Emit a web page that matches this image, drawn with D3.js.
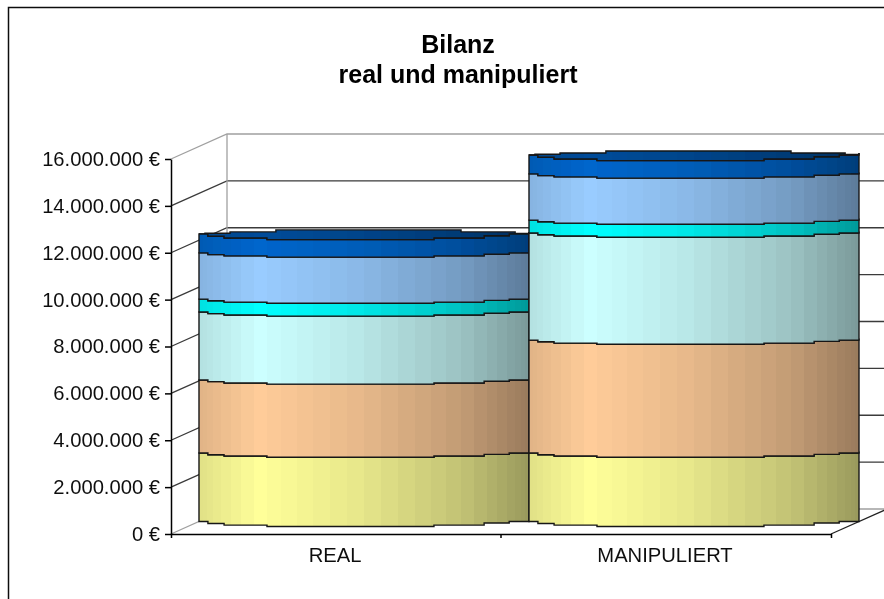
<!DOCTYPE html>
<html>
<head>
<meta charset="utf-8">
<script src="https://cdnjs.cloudflare.com/ajax/libs/d3/7.8.5/d3.min.js"></script>
<style>
	html, body { margin: 0; padding: 0; background: #fff; }
	svg { display: block; font-family: "Liberation Sans", Arial, sans-serif; }
</style>
</head>
<body>
<svg id="chart" width="884" height="599"></svg>
<script>
var categories = ['REAL', 'MANIPULIERT'];
var tickValues = [0, 2000000, 4000000, 6000000, 8000000, 10000000, 12000000, 14000000, 16000000];
var titleLines = ['Bilanz', 'real und manipuliert'];

// stacked layers, bottom to top, one value per category
var layerA = [2920000, 2920000];
var layerB = [3120000, 4820000];
var layerC = [2900000, 4570000];
var layerD = [550000, 550000];
var layerE = [1970000, 1970000];
var layerF = [810000, 810000];
var layers = [layerA, layerB, layerC, layerD, layerE, layerF];
var layerColors = ['#ffff99', '#ffcc99', '#ccffff', '#00ffff', '#99ccff', '#0066cc'];
var topColor = '#004c99';

var root = d3.select('#chart');
var left = 171, right = 831, top_ = 159, bottom = 534;
var depthX = 56, depthY = 25;

var x = d3.scaleBand().domain(categories).range([left, right]);
var y = d3.scaleLinear().domain([0, 16000000]).range([bottom, top_]);

var euro = d3.formatLocale({ decimal: ',', thousands: '.', grouping: [3], currency: ['', ' €'] }).format('$,.0f');

var defs = root.append('defs');

// the reference is a slightly soft screenshot
defs.append('filter').attr('id', 'soft').attr('x', 0).attr('y', 0).attr('width', 1).attr('height', 1)
	.attr('filterUnits', 'userSpaceOnUse')
	.attr('width', 884).attr('height', 599)
	.append('feGaussianBlur').attr('stdDeviation', 0.4);

var svg = root.append('g').attr('filter', 'url(#soft)');
svg.append('rect').attr('width', 884).attr('height', 599).attr('fill', '#fff');

// outer frame runs off the right and bottom of the picture
svg.append('rect').attr('x', 8.5).attr('y', 7.5).attr('width', 1000).attr('height', 1000)
	.attr('fill', 'none').attr('stroke', '#111').attr('stroke-width', 1.5);

var title = svg.append('text').attr('text-anchor', 'middle').attr('font-weight', 'bold')
	.attr('font-size', 25).attr('fill', '#000');
title.selectAll('tspan').data(titleLines).enter().append('tspan')
	.attr('x', 458)
	.attr('y', function (d, i) { return 53 + i * 30; })
	.text(function (d) { return d; });

// walls and gridlines
var grid = svg.append('g').attr('fill', 'none');
function gridColor(d) { return (d === 0 || d === 16000000) ? '#a0a0a0' : '#3a3a3a'; }

grid.selectAll('path.grid').data(tickValues).enter().append('path')
	.attr('class', 'grid')
	.attr('stroke', gridColor)
	.attr('stroke-width', 1.3)
	.attr('d', function (d) {
		return d3.line()([[left, y(d)], [left + depthX, y(d) - depthY], [884, y(d) - depthY]]);
	});

grid.append('line')
	.attr('x1', left + depthX).attr('x2', left + depthX)
	.attr('y1', y(16000000) - depthY).attr('y2', y(0) - depthY)
	.attr('stroke', '#a0a0a0').attr('stroke-width', 1.3);

grid.append('line')
	.attr('x1', right).attr('y1', bottom)
	.attr('x2', right + depthX).attr('y2', bottom - depthY)
	.attr('stroke', '#222').attr('stroke-width', 1.3);

// cylinder facets: shading by position across the bar, in hard vertical strips
var shade = d3.scaleLinear().domain([0, 0.18, 0.5, 0.8, 1]).range([0.88, 1, 0.9, 0.76, 0.6]);
var facetCount = 30;

function facetGradient(id, color) {
	var c = d3.rgb(color);
	var g = defs.append('linearGradient').attr('id', id)
		.attr('x1', 0).attr('x2', 1).attr('y1', 0).attr('y2', 0);
	d3.range(facetCount).forEach(function (i) {
		var a = (1 - Math.cos(Math.PI * i / facetCount)) / 2;
		var b = (1 - Math.cos(Math.PI * (i + 1) / facetCount)) / 2;
		var s = shade((a + b) / 2);
		var col = d3.rgb(c.r * s, c.g * s, c.b * s).formatHex();
		g.append('stop').attr('offset', a).attr('stop-color', col);
		g.append('stop').attr('offset', b).attr('stop-color', col);
	});
}

layerColors.forEach(function (col, i) { facetGradient('facet' + i, col); });
facetGradient('facetTop', topColor);

// the rim is a coarse polygon in the original, so its edges come in flat steps
var frontSteps = [0, 0.027, 0.076, 0.206, 0.712, 0.864, 0.94, 1];
var frontDrop = [0, 1.7, 3, 4.2, 3, 1.3, 0, -1.5];
var backSteps = [0, 0.018, 0.094, 0.233, 0.794, 0.958, 1];
var backRise = [0, -0.7, -2, -4, -2, -0.5, -1.5];

// both rim edges sampled on the union of their step positions
function mergedRim(rim) {
	var fs = d3.merge([frontSteps, backSteps]).sort(d3.ascending).filter(function (f, i, a) { return i === 0 || f !== a[i - 1]; });
	return fs.map(function (f) {
		var a = d3.bisectRight(frontSteps, f) - 1;
		var b = d3.bisectRight(backSteps, f) - 1;
		return { f: f, y0: rim + frontDrop[a] * 1.35, y1: rim + backRise[b] };
	});
}

var offsetX = depthX / 2, offsetY = depthY / 2;
var bars = svg.append('g');

categories.forEach(function (cat, c) {
	var x0 = x(cat) + offsetX;
	var w = x.bandwidth();
	var g = bars.append('g');
	var sum = 0;

	var px = function (f) { return x0 + f * w; };
	var style = function (sel, fill) {
		sel.attr('fill', fill).attr('stroke', '#161616').attr('stroke-width', 1.4).attr('stroke-linejoin', 'miter');
	};

	layers.forEach(function (layer, i) {
		var low = y(sum) - offsetY;
		sum += layer[c];
		var high = y(sum) - offsetY;
		var isTop = i === layers.length - 1;
		var area = d3.area().curve(d3.curveStepAfter)
			.x(function (d) { return px(d.f); })
			.y0(function (d, k) { return low + frontDrop[k] * (i === 0 ? 1.2 : 1); })
			.y1(function (d, k) { return high + frontDrop[k] * (isTop ? 1.35 : 1); });
		g.append('path').datum(frontSteps.map(function (f) { return { f: f }; }))
			.call(style, 'url(#facet' + i + ')')
			.attr('d', area);
	});

	// top face of the stack
	var rim = y(sum) - offsetY;
	g.append('path').call(style, 'url(#facetTop)').attr('d', d3.area().curve(d3.curveStepAfter)
		.x(function (d) { return px(d.f); })
		.y0(function (d) { return d.y0; })
		.y1(function (d) { return d.y1; })(mergedRim(rim)));
});

// axes
var yAxis = svg.append('g').attr('transform', 'translate(' + left + ',0)')
	.call(d3.axisLeft(y).tickValues(tickValues).tickFormat(euro).tickSize(6).tickPadding(5).tickSizeOuter(0));
yAxis.attr('font-family', null);
yAxis.selectAll('text').attr('font-size', 20.2).attr('fill', '#111');
yAxis.selectAll('line, path').attr('stroke', '#000').attr('stroke-width', 1.5);

var xAxis = svg.append('g').attr('transform', 'translate(0,' + bottom + ')')
	.call(d3.axisBottom(x).tickSize(0).tickPadding(14).tickSizeOuter(4));
xAxis.attr('font-family', null);
xAxis.selectAll('text').attr('font-size', 20.2).attr('fill', '#111').attr('dx', -1);
xAxis.selectAll('path').attr('stroke', '#000').attr('stroke-width', 1.5);
xAxis.selectAll('line.sep').data(categories.slice(1)).enter().append('line')
	.attr('class', 'sep')
	.attr('x1', function (d) { return x(d); }).attr('x2', function (d) { return x(d); })
	.attr('y1', 0).attr('y2', 4)
	.attr('stroke', '#000').attr('stroke-width', 1.5);
</script>
</body>
</html>
